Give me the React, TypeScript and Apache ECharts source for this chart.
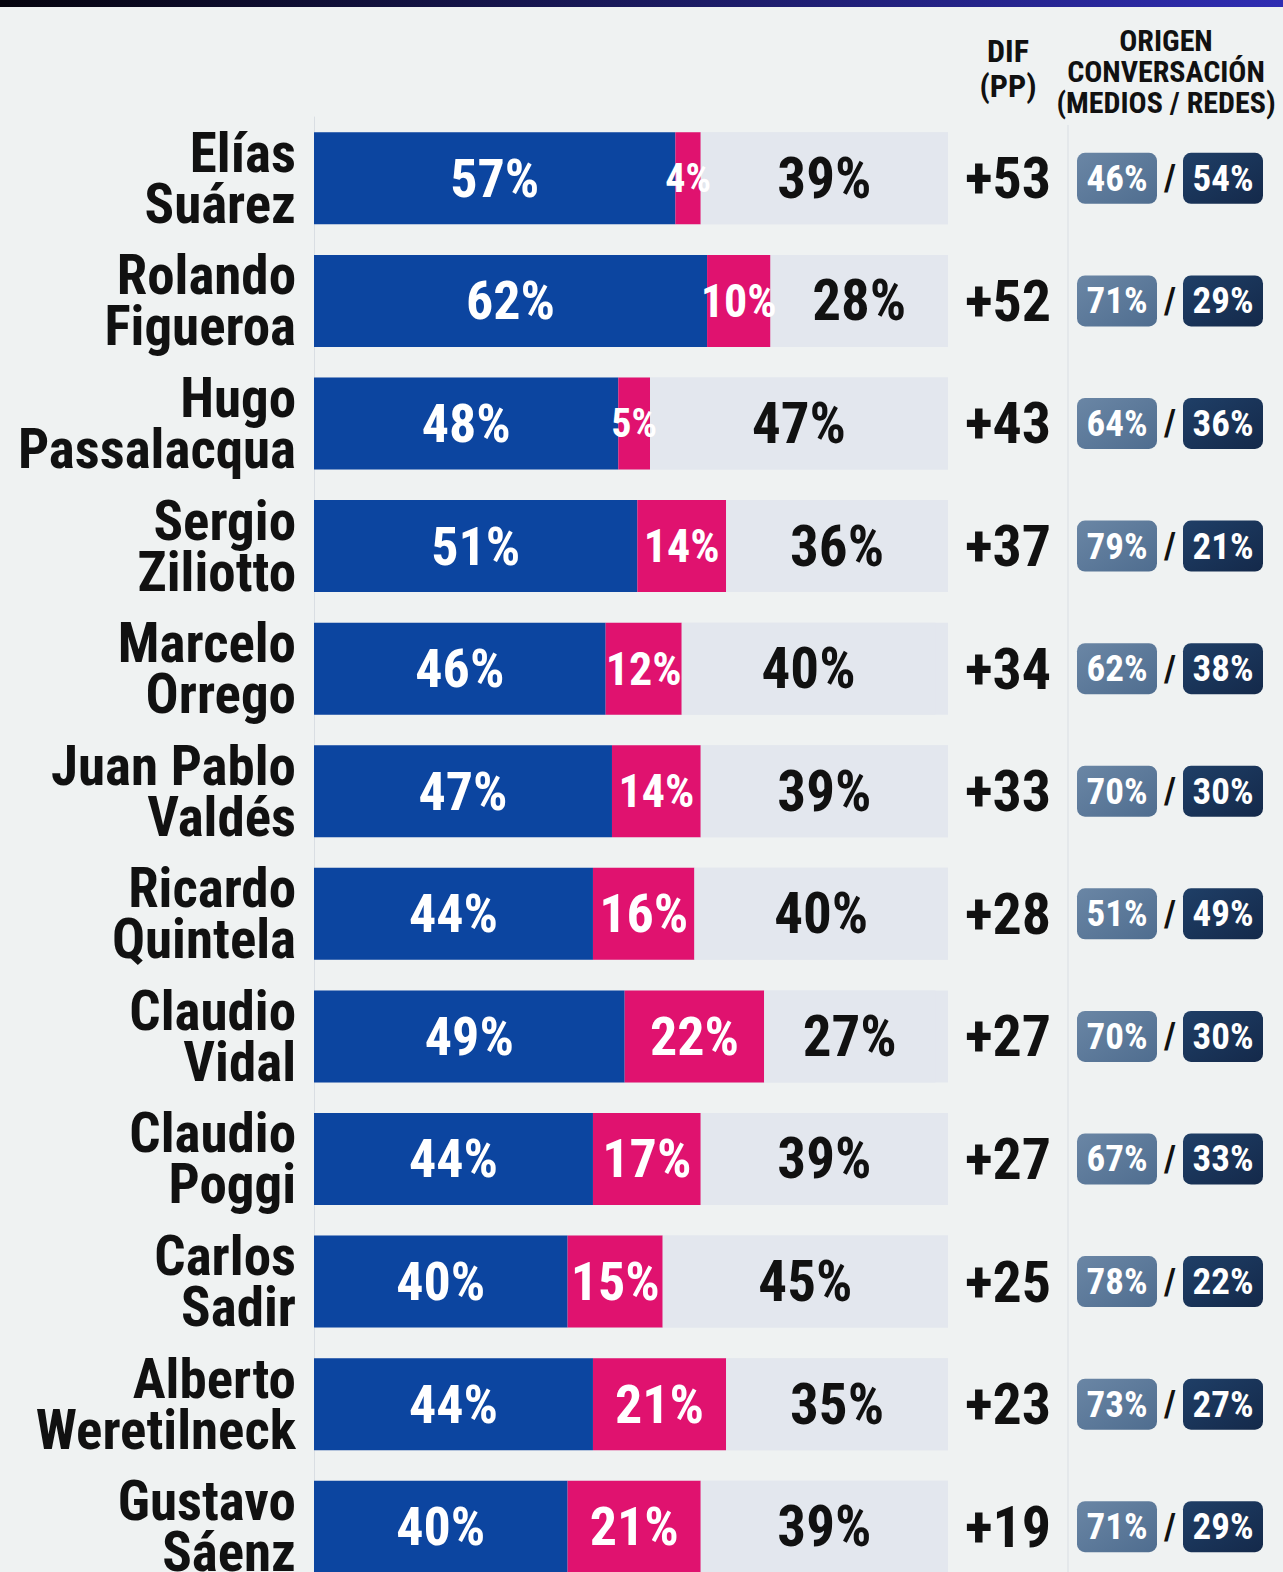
import React, { useEffect, useRef } from "react";
import * as echarts from "echarts";

const names = [
  "Elías\nSuárez",
  "Rolando\nFigueroa",
  "Hugo\nPassalacqua",
  "Sergio\nZiliotto",
  "Marcelo\nOrrego",
  "Juan Pablo\nValdés",
  "Ricardo\nQuintela",
  "Claudio\nVidal",
  "Claudio\nPoggi",
  "Carlos\nSadir",
  "Alberto\nWeretilneck",
  "Gustavo\nSáenz",
];
const positive = [57, 62, 48, 51, 46, 47, 44, 49, 44, 40, 44, 40];
const negative = [4, 10, 5, 14, 12, 14, 16, 22, 17, 15, 21, 21];
const neutral = [39, 28, 47, 36, 40, 39, 40, 27, 39, 45, 35, 39];
const dif = [53, 52, 43, 37, 34, 33, 28, 27, 27, 25, 23, 19];
const medios = [46, 71, 64, 79, 62, 70, 51, 70, 67, 78, 73, 71];
const redes = [54, 29, 36, 21, 38, 30, 49, 30, 33, 22, 27, 29];

const FONT = "'Roboto Condensed', 'Liberation Sans Narrow', 'DejaVu Sans Condensed', Roboto, sans-serif";

export default function App() {
  const ref = useRef<HTMLDivElement>(null);
  useEffect(() => {
    const chart = echarts.init(ref.current!, null, { renderer: "svg" });
    const pinkSize = (v: number) => (v < 6 ? 40 : v <= 14 ? 46 : 54);
    chart.setOption({
      animation: false,
      backgroundColor: "#eff2f2",
      textStyle: { fontFamily: FONT },
      grid: { left: 314, right: 335, top: 117, bottom: 0 },
      xAxis: {
        type: "value",
        min: 0,
        max: 100,
        show: false,
      },
      yAxis: {
        type: "category",
        inverse: true,
        data: names,
        axisTick: { show: false },
        axisLine: { show: true, lineStyle: { color: "#d9dee3", width: 1 } },
        axisLabel: {
          fontFamily: FONT,
          fontSize: 55,
          lineHeight: 51,
          fontWeight: "bold",
          color: "#111",
          align: "right",
          margin: 18,
        },
      },
      series: [
        {
          type: "bar",
          stack: "s",
          barWidth: 92,
          data: positive,
          showBackground: true,
          backgroundStyle: { color: "#e3e7ee" },
          itemStyle: { color: "#0c45a0" },
          label: {
            show: true,
            position: "inside",
            formatter: "{c}%",
            color: "#fff",
            fontSize: 54,
            fontWeight: "bold",
            fontFamily: FONT,
          },
        },
        {
          type: "bar",
          stack: "s",
          barWidth: 92,
          data: negative.map((v) => ({
            value: v,
            label: { fontSize: pinkSize(v) },
          })),
          itemStyle: { color: "#e0126f" },
          label: {
            show: true,
            position: "inside",
            formatter: "{c}%",
            color: "#fff",
            fontWeight: "bold",
            fontFamily: FONT,
          },
        },
        {
          type: "bar",
          stack: "s",
          barWidth: 92,
          data: neutral,
          itemStyle: { color: "#e3e7ee" },
          label: {
            show: true,
            position: "inside",
            formatter: "{c}%",
            color: "#111",
            fontSize: 57,
            fontWeight: "bold",
            fontFamily: FONT,
          },
        },
        {
          type: "custom",
          data: names.map((_, i) => [0, i, dif[i], medios[i], redes[i]]),
          encode: { x: 0, y: 1 },
          clip: false,
          silent: true,
          renderItem: (params: any, api: any) => {
            const y = api.coord([0, api.value(1)])[1];
            const d = api.value(2);
            const m = api.value(3);
            const r = api.value(4);
            const bw = 80;
            const bh = 51;
            return {
              type: "group",
              children: [
                {
                  type: "text",
                  x: 1008,
                  y: y,
                  style: {
                    text: "+" + d,
                    fontSize: 58,
                    fontWeight: "bold",
                    fontFamily: FONT,
                    fill: "#111",
                    align: "center",
                    verticalAlign: "middle",
                  },
                },
                {
                  type: "rect",
                  shape: { x: 1077, y: y - bh / 2, width: bw, height: bh, r: 8 },
                  style: {
                    fill: new echarts.graphic.LinearGradient(0, 0, 1, 1, [
                      { offset: 0, color: "#6a86a5" },
                      { offset: 1, color: "#4f6d8f" },
                    ]),
                  },
                },
                {
                  type: "text",
                  x: 1117,
                  y: y,
                  style: {
                    text: m + "%",
                    fontSize: 37,
                    fontWeight: "bold",
                    fontFamily: FONT,
                    fill: "#fff",
                    align: "center",
                    verticalAlign: "middle",
                  },
                },
                {
                  type: "text",
                  x: 1170,
                  y: y,
                  style: {
                    text: "/",
                    fontSize: 36,
                    fontWeight: "bold",
                    fontFamily: FONT,
                    fill: "#111",
                    align: "center",
                    verticalAlign: "middle",
                  },
                },
                {
                  type: "rect",
                  shape: { x: 1183, y: y - bh / 2, width: bw, height: bh, r: 8 },
                  style: {
                    fill: new echarts.graphic.LinearGradient(0, 0, 1, 1, [
                      { offset: 0, color: "#1f3f67" },
                      { offset: 1, color: "#14294a" },
                    ]),
                  },
                },
                {
                  type: "text",
                  x: 1223,
                  y: y,
                  style: {
                    text: r + "%",
                    fontSize: 37,
                    fontWeight: "bold",
                    fontFamily: FONT,
                    fill: "#fff",
                    align: "center",
                    verticalAlign: "middle",
                  },
                },
              ],
            };
          },
        },
      ],
      graphic: [
        {
          type: "rect",
          left: 0,
          top: 0,
          shape: { width: 1283, height: 7 },
          style: {
            fill: new echarts.graphic.LinearGradient(0, 0, 1, 0, [
              { offset: 0, color: "#05040e" },
              { offset: 0.5, color: "#1a1a5e" },
              { offset: 1, color: "#2f2db3" },
            ]),
          },
        },
        {
          type: "line",
          shape: { x1: 1068, y1: 125, x2: 1068, y2: 1588 },
          style: { stroke: "#d9dee3", lineWidth: 1 },
        },
        {
          type: "text",
          x: 1008,
          y: 68,
          style: {
            text: "DIF\n(PP)",
            fontSize: 32,
            lineHeight: 35,
            fontWeight: "bold",
            fontFamily: FONT,
            fill: "#111",
            align: "center",
            verticalAlign: "middle",
          },
        },
        {
          type: "text",
          x: 1166,
          y: 71,
          style: {
            text: "ORIGEN\nCONVERSACIÓN\n(MEDIOS / REDES)",
            fontSize: 30,
            lineHeight: 31,
            fontWeight: "bold",
            fontFamily: FONT,
            fill: "#111",
            align: "center",
            verticalAlign: "middle",
          },
        },
      ],
    });
    return () => chart.dispose();
  }, []);
  return (
    <div
      ref={ref}
      style={{ position: "fixed", left: 0, top: 0, width: 1283, height: 1588 }}
    />
  );
}
